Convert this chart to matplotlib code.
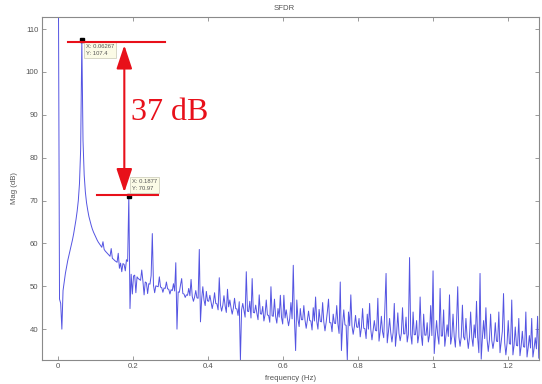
"""SFDR plot: FFT magnitude spectrum with carrier, largest spur and the 37 dB gap."""

import matplotlib
matplotlib.use("Agg")
import matplotlib.pyplot as plt
import numpy as np

# --- spectrum (one value per FFT bin, dB) ---
bin_width = 0.0031335  # Hz per bin
mag_db = [
    125.0, 47.0, 46.0, 40.0, 49.0, 51.0, 53.0, 54.5, 56.0, 57.2,
    58.3, 59.5, 60.8, 62.2, 63.8, 65.5, 67.5, 70.0, 74.0, 82.0,
    107.4, 84.0, 76.0, 72.0, 69.5, 67.8, 66.3, 65.2, 64.2, 63.3,
    62.6, 62.0, 61.4, 60.8, 60.3, 59.9, 59.5, 59.1, 60.4, 58.6,
    58.2, 57.9, 57.6, 57.3, 57.0, 58.8, 56.5, 56.3, 56.0, 55.8,
    55.6, 57.7, 54.2, 55.4, 53.4, 55.3, 55.1, 53.6, 56.2, 55.8,
    70.97, 44.8, 52.8, 48.2, 52.4, 52.6, 48.5, 52.2, 51.8, 51.6,
    51.4, 53.8, 51.2, 48.0, 51.0, 50.8, 48.3, 50.6, 50.5, 52.5,
    62.3, 50.2, 48.5, 50.1, 50.0, 49.9, 52.2, 49.8, 49.7, 48.6,
    49.6, 49.5, 51.0, 49.4, 49.3, 48.2, 49.2, 49.0, 50.6, 48.9,
    55.5, 40.0, 48.7, 48.6, 50.3, 51.8, 48.3, 48.2, 47.4, 48.0,
    47.9, 49.5, 47.8, 51.6, 47.6, 46.5, 47.5, 49.0, 47.3, 47.2,
    58.6, 41.7, 47.0, 49.9, 46.8, 45.5, 48.8, 46.6, 46.5, 47.9,
    46.3, 44.8, 46.2, 48.5, 46.0, 45.9, 44.5, 52.0, 45.7, 44.2,
    45.5, 47.8, 45.4, 43.9, 49.3, 45.2, 46.8, 45.0, 43.5, 44.9,
    47.2, 44.8, 44.7, 43.2, 46.4, 32.8, 44.5, 46.0, 44.4, 42.8,
    53.4, 44.2, 44.1, 46.5, 42.6, 51.8, 43.9, 43.8, 45.6, 43.7,
    42.2, 48.0, 43.6, 43.5, 45.3, 41.9, 43.4, 46.8, 43.3, 43.2,
    41.6, 49.9, 43.1, 43.0, 47.0, 42.9, 41.4, 44.8, 42.8, 47.9,
    42.7, 41.2, 47.9, 42.6, 44.5, 42.5, 40.8, 42.5, 46.2, 42.4,
    54.9, 42.3, 35.0, 46.8, 42.3, 40.6, 44.8, 42.2, 42.2, 45.5,
    42.1, 40.2, 42.1, 44.2, 42.0, 41.9, 39.8, 45.0, 41.9, 47.5,
    41.8, 40.0, 44.6, 41.8, 41.7, 46.2, 41.7, 39.6, 41.6, 44.0,
    47.0, 41.5, 41.5, 39.4, 43.5, 41.4, 41.3, 45.5, 41.2, 39.0,
    51.0, 35.0, 41.1, 44.5, 41.0, 40.9, 32.8, 44.0, 40.8, 48.0,
    40.7, 38.8, 40.6, 43.2, 40.5, 40.4, 42.5, 38.2, 40.3, 44.8,
    40.2, 40.1, 37.8, 43.5, 40.0, 46.0, 39.9, 37.5, 39.8, 42.0,
    39.7, 39.6, 47.2, 37.2, 39.5, 43.0, 39.4, 38.0, 45.0, 53.0,
    36.8, 39.3, 42.5, 39.2, 37.0, 39.2, 46.0, 36.0, 39.1, 43.8,
    39.0, 37.3, 39.0, 45.0, 38.9, 38.9, 42.8, 37.0, 38.8, 56.7,
    38.8, 36.5, 44.0, 38.7, 38.7, 42.0, 36.8, 38.7, 47.5, 38.6,
    36.2, 43.5, 38.6, 38.6, 41.5, 37.0, 38.6, 45.5, 38.5, 53.6,
    34.3, 38.5, 42.0, 38.5, 36.5, 49.5, 38.4, 38.4, 44.5, 36.0,
    38.4, 41.0, 38.3, 48.0, 36.5, 38.3, 43.5, 38.3, 35.8, 41.5,
    49.9, 38.2, 36.0, 38.2, 45.6, 38.2, 37.5, 42.5, 38.1, 35.5,
    38.1, 44.0, 38.1, 36.0, 41.0, 38.0, 46.5, 38.0, 34.5, 53.0,
    33.0, 37.9, 42.0, 37.8, 45.0, 37.6, 34.8, 37.5, 43.5, 37.4,
    35.5, 37.3, 41.5, 37.2, 37.1, 44.0, 34.5, 37.0, 39.5, 48.3,
    36.8, 34.0, 36.7, 42.0, 36.6, 36.5, 46.8, 34.0, 36.3, 40.5,
    36.2, 36.1, 42.5, 33.8, 36.0, 39.5, 35.9, 35.8, 44.0, 33.5,
    35.7, 38.5, 35.6, 42.5, 33.5, 35.5, 38.0, 35.4, 43.0, 33.2,
    35.3, 40.0,
]
freq = np.arange(len(mag_db)) * bin_width

# data tips
peak_f, peak_db = 0.06267, 107.4
spur_f, spur_db = 0.1877, 70.97
peak_tip = "X: 0.06267\nY: 107.4"
spur_tip = "X: 0.1877\nY: 70.97"
sfdr_label = "37 dB"

xticks = [0, 0.2, 0.4, 0.6, 0.8, 1.0, 1.2]
xtick_labels = ["0", "0.2", "0.4", "0.6", "0.8", "1", "1.2"]
yticks = [40, 50, 60, 70, 80, 90, 100, 110]

# --- plot ---
plt.rcParams["font.family"] = ["Liberation Sans", "DejaVu Sans"]
fig = plt.figure(figsize=(5.42, 3.84), dpi=100)
ax = fig.add_axes([0.077, 0.0625, 0.918, 0.894])

ax.plot(freq, mag_db, color="#5454e2", linewidth=0.7)

ax.set_xlim(-0.0443, 1.283)
ax.set_ylim(32.8, 112.9)
ax.set_xticks(xticks)
ax.set_xticklabels(xtick_labels)
ax.set_yticks(yticks)

grey = "#8a8a8a"
for s in ax.spines.values():
    s.set_color(grey)
    s.set_linewidth(0.8)
ax.tick_params(direction="in", length=3, width=0.6, color=grey,
               labelsize=5.6, labelcolor="#555555", pad=2.5,
               top=True, right=True)

ax.set_title("SFDR", fontsize=5.6, color="#555555", x=0.487, pad=5)
ax.set_xlabel("frequency (Hz)", fontsize=5.6, color="#555555", labelpad=3)
ax.set_ylabel("Mag (dB)", fontsize=5.6, color="#555555", labelpad=5)

# data tip markers and boxes
tip_box = dict(boxstyle="square,pad=0.35", fc="#fbfbe6", ec="#c8c8b4", lw=0.5)
for f, db, txt, off, va in [(peak_f, peak_db, peak_tip, (3, -3), "top"),
                            (spur_f, spur_db, spur_tip, (2.5, 4), "bottom")]:
    ax.plot(f, db, "s", color="black", markersize=3, zorder=6)
    ax.annotate(txt, xy=(f, db), xytext=off, textcoords="offset points",
                ha="left", va=va, fontsize=4.2, color="#555555",
                linespacing=1.4, bbox=tip_box, zorder=7)

# SFDR markup in red
red = "#e8101a"
ax.plot([0.026, 0.285], [peak_db - 0.5, peak_db - 0.5], color=red, lw=1.5, zorder=8)
ax.plot([0.1033, 0.266], [spur_db + 0.3, spur_db + 0.3], color=red, lw=1.5, zorder=8)
arrow_x = 0.176
ax.annotate("", xy=(arrow_x, peak_db - 0.5), xytext=(arrow_x, spur_db + 0.3),
            arrowprops=dict(arrowstyle="<|-|>,head_length=1.2,head_width=0.4",
                            mutation_scale=12, color=red, lw=1.5,
                            shrinkA=2, shrinkB=2), zorder=8)
ax.text(0.194, 90.6, sfdr_label, color=red, fontsize=23,
        family="Liberation Serif", ha="left", va="center", zorder=8)

fig.savefig("out.png", dpi=100)
